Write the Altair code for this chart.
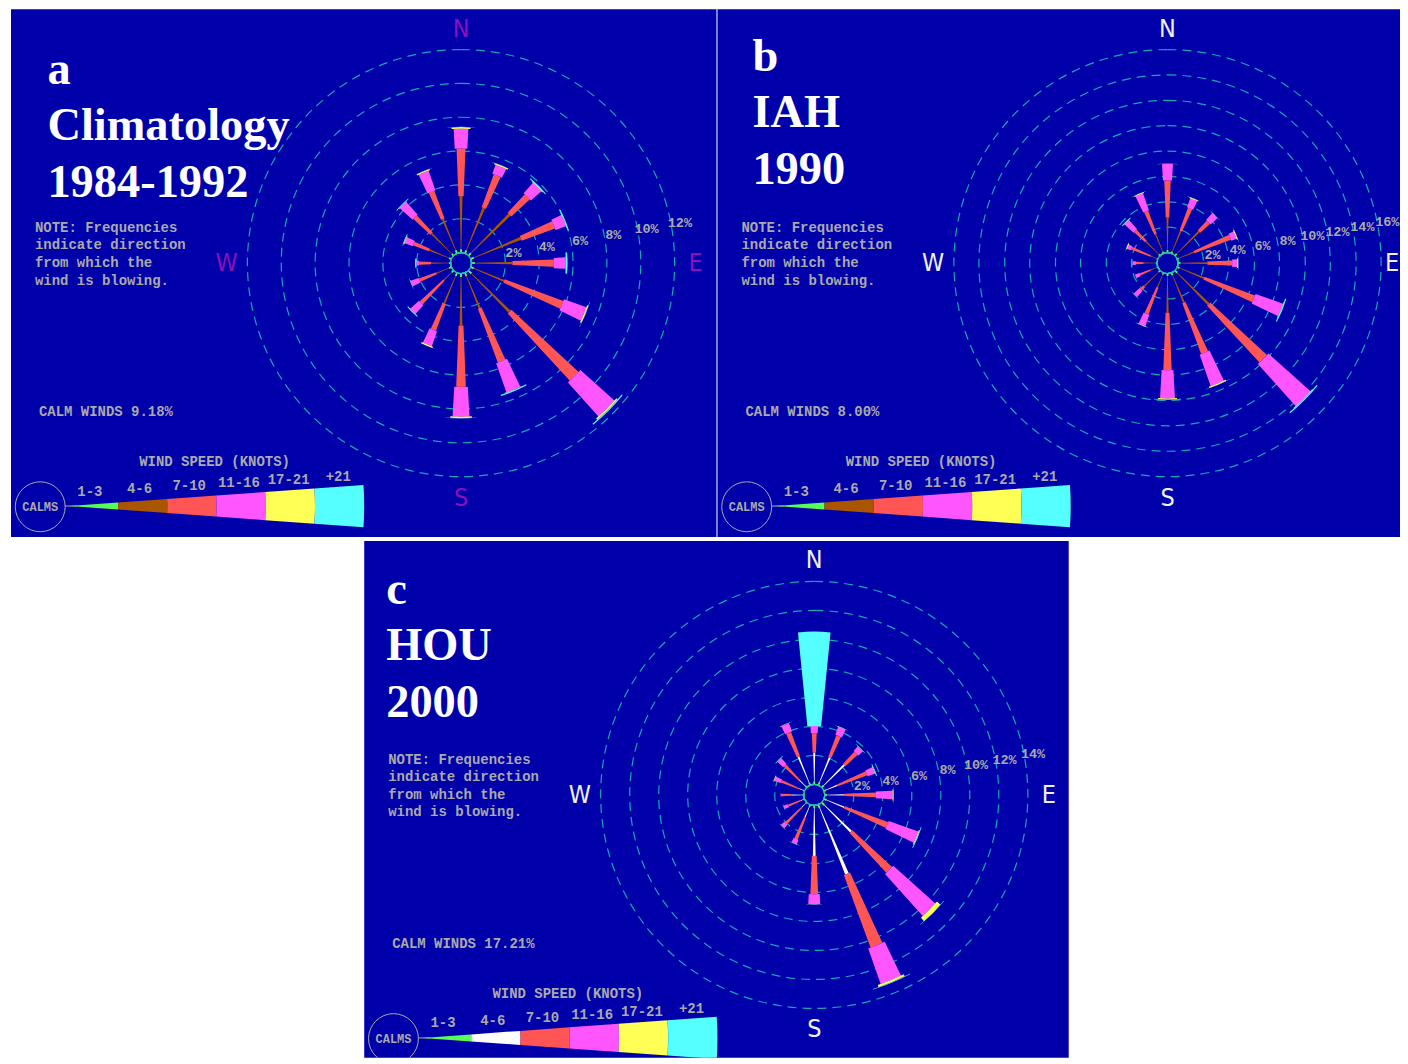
import math
import altair as alt
import pandas as pd

# ---------------- data ----------------
DIRECTIONS = ["N", "NNE", "NE", "ENE", "E", "ESE", "SE", "SSE",
              "S", "SSW", "SW", "WSW", "W", "WNW", "NW", "NNW"]
DIR_DEG = [0, 22.5, 45, 67.5, 90, 112.5, 135, 157.5,
           180, 202.5, 225, 247.5, 270, 292.5, 315, 337.5]
SPEED_CLASSES = ["1-3", "4-6", "7-10", "11-16", "17-21", "+21"]
COMPASS = ["N", "E", "S", "W"]
COMPASS_DEG = [0, 90, 180, 270]

# cumulative frequency (%) at the outer end of each speed class, per direction
# panel a: Climatology 1984-1992
A_1_3 = [0.20, 0.20, 0.20, 0.20, 0.20, 0.20, 0.25, 0.20, 0.20, 0.20, 0.15, 0.15, 0.10, 0.15, 0.15, 0.20]
A_4_6 = [3.34, 2.90, 3.43, 3.20, 2.42, 2.13, 3.44, 2.26, 3.07, 1.98, 0.81, 0.95, 1.15, 1.40, 1.84, 2.19]
A_7_10 = [6.15, 4.97, 4.93, 5.30, 4.87, 5.83, 8.85, 5.65, 6.70, 3.66, 2.72, 2.03, 1.87, 2.40, 3.22, 3.95]
A_11_16 = [7.32, 5.54, 5.75, 5.95, 5.56, 7.24, 11.55, 7.48, 8.46, 4.60, 3.40, 2.54, 2.01, 2.91, 4.24, 5.17]
A_17_21 = [7.42, 5.62, 5.80, 5.98, 5.58, 7.32, 11.65, 7.50, 8.55, 4.67, 3.42, 2.56, 2.02, 2.96, 4.27, 5.25]
A_21 = [7.43, 5.63, 5.86, 6.04, 5.68, 7.34, 11.72, 7.58, 8.56, 4.68, 3.48, 2.58, 2.10, 3.00, 4.32, 5.26]

# panel b: IAH 1990
B_1_3 = [0.20, 0.15, 0.20, 0.15, 0.20, 0.20, 0.25, 0.20, 0.20, 0.15, 0.15, 0.10, 0.10, 0.10, 0.15, 0.15]
B_4_6 = [2.76, 1.92, 2.69, 1.43, 2.31, 2.28, 3.76, 2.53, 3.10, 1.22, 1.76, 0.59, 1.06, 0.59, 1.58, 1.63]
B_7_10 = [5.69, 3.84, 3.72, 4.51, 4.27, 6.53, 9.85, 6.82, 7.62, 3.49, 2.13, 1.51, 1.66, 2.24, 2.76, 3.59]
B_11_16 = [7.00, 4.59, 4.46, 4.94, 4.67, 8.82, 14.30, 9.45, 9.84, 4.43, 2.76, 1.87, 1.92, 2.53, 3.72, 5.00]
B_17_21 = [7.00, 4.66, 4.48, 5.02, 4.75, 8.86, 14.35, 9.55, 9.92, 4.48, 2.78, 1.88, 1.93, 2.62, 3.75, 5.07]
B_21 = [7.02, 4.67, 4.50, 5.04, 4.77, 8.95, 14.45, 9.57, 9.96, 4.50, 2.80, 1.90, 1.95, 2.64, 3.82, 5.08]

# panel c: HOU 2000
C_1_3 = [0.20, 0.20, 0.20, 0.15, 0.15, 0.20, 0.25, 0.25, 0.20, 0.15, 0.10, 0.10, 0.10, 0.10, 0.15, 0.20]
C_4_6 = [2.19, 2.06, 2.20, 1.00, 1.34, 1.52, 2.86, 5.17, 3.48, 0.93, 0.48, 0.30, 0.82, 0.40, 0.73, 2.10]
C_7_10 = [3.53, 3.67, 3.34, 3.18, 3.53, 4.72, 6.59, 10.50, 6.12, 2.56, 2.04, 1.20, 1.57, 1.74, 2.14, 3.91]
C_11_16 = [4.03, 4.26, 3.76, 3.70, 4.68, 6.88, 10.49, 13.10, 6.81, 2.88, 2.37, 1.52, 1.60, 2.19, 2.69, 4.52]
C_17_21 = [4.03, 4.28, 3.80, 3.75, 4.75, 6.95, 10.81, 13.25, 6.83, 2.90, 2.38, 1.53, 1.60, 2.25, 2.70, 4.55]
C_21 = [10.54, 4.29, 3.82, 3.80, 4.77, 7.00, 10.84, 13.28, 6.84, 2.92, 2.40, 1.55, 1.60, 2.26, 2.75, 4.56]

A_RINGS = [2, 4, 6, 8, 10, 12]
B_RINGS = [2, 4, 6, 8, 10, 12, 14, 16]
C_RINGS = [2, 4, 6, 8, 10, 12, 14]

A_TITLE = "a\nClimatology\n1984-1992"
B_TITLE = "b\nIAH\n1990"
C_TITLE = "c\nHOU\n2000"
A_CALM = "CALM WINDS 9.18%"
B_CALM = "CALM WINDS 8.00%"
C_CALM = "CALM WINDS 17.21%"
NOTE = "NOTE: Frequencies\nindicate direction\nfrom which the\nwind is blowing."
LEGEND_TITLE = "WIND SPEED (KNOTS)"

# ---------------- style ----------------
BG = "#0000aa"
GRAY = "#aaaaaa"
RING = "#14a8b0"
COLORS_AB = ["#55ff55", "#aa5500", "#ff5555", "#ff55ff", "#ffff55", "#55ffff"]
COLORS_C = ["#55ff55", "#ffffff", "#ff5555", "#ff55ff", "#ffff55", "#55ffff"]
ARC_WIDTH = [0.15, 0.045, 0.078, 0.11, 0.14, 0.2]   # angular width (rad) per class
MONO = "Liberation Mono"
SERIF = "Liberation Serif"
SANS_N = '"Liberation Sans Narrow", "DejaVu Sans Condensed", sans-serif'
TWO_PI = 2 * math.pi


def one(val="x"):
    return pd.DataFrame({"t": [val]})


def build_panel(cum, colors, pmax, ring_pcts, label_offset, calm_text, title_text,
                title_x, title_y, compass_color, east_radius, width, height):
    CX, CY = 451, 254.5
    X, Y = alt.value(CX), alt.value(CY)
    rscale = alt.Scale(type="linear", domain=[0, pmax], range=[10.5, 214], zero=False)
    layers = []

    rings = pd.DataFrame({"p": ring_pcts, "lab": [f"{p}%" for p in ring_pcts]})
    layers.append(
        alt.Chart(rings).mark_arc(theta=0, theta2=TWO_PI, fillOpacity=0, stroke=RING,
                                  strokeWidth=1.2, strokeDash=[9, 6], clip=True)
        .encode(radius=alt.Radius("p:Q", scale=rscale, stack=False), x=X, y=Y)
    )

    rows = []
    for k, cls in enumerate(SPEED_CLASSES):
        for j, d in enumerate(DIR_DEG):
            p0 = cum[k - 1][j] if k > 0 else 0.0
            p1 = cum[k][j]
            if p1 - p0 > 1e-6:
                rows.append({"cls": cls, "dir": d, "p0": p0, "p1": p1})
    seg = pd.DataFrame(rows)
    for k, cls in enumerate(SPEED_CLASSES):
        sub = seg[seg["cls"] == cls]
        if sub.empty:
            continue
        half = ARC_WIDTH[k] / 2
        layers.append(
            alt.Chart(sub).transform_calculate(
                t1=f"datum.dir * PI / 180 - {half}",
                t2=f"datum.dir * PI / 180 + {half}",
            ).mark_arc(color=colors[k], clip=True).encode(
                theta=alt.Theta("t1:Q", scale=None, stack=False),
                theta2="t2:Q",
                radius=alt.Radius("p1:Q", scale=rscale, stack=False),
                radius2="p0:Q",
                x=X, y=Y,
            )
        )

    # calm circle at the centre
    layers.append(
        alt.Chart(pd.DataFrame({"p": [0]})).mark_arc(
            theta=0, theta2=TWO_PI, fillOpacity=0, stroke="#30c0a0", strokeWidth=1.2, clip=True
        ).encode(radius=alt.Radius("p:Q", scale=rscale, stack=False), x=X, y=Y)
    )

    # ring labels
    layers.append(
        alt.Chart(rings).mark_text(font=MONO, fontSize=13.5, fontWeight="bold", color=GRAY,
                                   theta=1.388, radiusOffset=label_offset, clip=True)
        .encode(radius=alt.Radius("p:Q", scale=rscale, stack=False), text="lab:N", x=X, y=Y)
    )

    # compass letters
    for letter, deg in zip(COMPASS, COMPASS_DEG):
        rad = east_radius if letter == "E" else 235
        layers.append(
            alt.Chart(pd.DataFrame({"c": [letter], "deg": [deg]}))
            .transform_calculate(th="datum.deg * PI / 180")
            .mark_text(font=SANS_N, fontSize=25, color=compass_color, baseline="middle", clip=True)
            .encode(theta=alt.Theta("th:Q", scale=None, stack=False), radius=alt.value(rad),
                    text="c:N", x=X, y=Y)
        )

    # title
    layers.append(
        alt.Chart(one(title_text)).mark_text(
            align="left", baseline="alphabetic", font=SERIF, fontSize=46.5, fontWeight="bold",
            color="white", lineBreak="\n", lineHeight=56.5, clip=True
        ).encode(text="t:N", x=alt.value(title_x), y=alt.value(title_y))
    )

    # note
    layers.append(
        alt.Chart(one(NOTE)).mark_text(
            align="left", baseline="middle", font=MONO, fontSize=14, fontWeight="bold",
            color=GRAY, lineBreak="\n", lineHeight=17.7, clip=True
        ).encode(text="t:N", x=alt.value(24), y=alt.value(219))
    )

    # calm winds
    layers.append(
        alt.Chart(one(calm_text)).mark_text(
            align="left", baseline="middle", font=MONO, fontSize=14, fontWeight="bold",
            color=GRAY, clip=True
        ).encode(text="t:N", x=alt.value(28), y=alt.value(404))
    )

    # legend
    layers.append(
        alt.Chart(one(LEGEND_TITLE)).mark_text(
            align="center", baseline="middle", font=MONO, fontSize=14, fontWeight="bold",
            color=GRAY, clip=True
        ).encode(text="t:N", x=alt.value(204), y=alt.value(454))
    )
    layers.append(
        alt.Chart(one()).mark_rule(color=GRAY, strokeWidth=1, clip=True)
        .encode(x=alt.value(54), x2=alt.value(66), y=alt.value(498))
    )
    leg = pd.DataFrame({"cls": SPEED_CLASSES, "k": list(range(6))})
    leg["k1"] = leg["k"] + 1
    layers.append(
        alt.Chart(leg).mark_arc(theta=1.4993, theta2=1.6423, clip=True).encode(
            radius=alt.Radius("k1:Q", scale=alt.Scale(type="linear", domain=[0, 6], range=[0, 296], zero=False),
                              stack=False),
            radius2="k:Q",
            color=alt.Color("cls:N", scale=alt.Scale(domain=SPEED_CLASSES, range=colors), legend=None),
            x=alt.value(58), y=alt.value(498),
        )
    )
    layers.append(
        alt.Chart(leg).mark_text(font=MONO, fontSize=14, fontWeight="bold", color=GRAY,
                                 baseline="middle", clip=True).encode(
            text="cls:N",
            x=alt.X("k:Q", scale=alt.Scale(domain=[0, 5], range=[79, 328]), axis=None),
            y=alt.Y("k:Q", scale=alt.Scale(domain=[0, 5], range=[483.5, 469]), axis=None),
        )
    )
    layers.append(
        alt.Chart(one()).mark_arc(theta=0, theta2=TWO_PI, radius=25, fillOpacity=0, stroke=GRAY,
                                  strokeWidth=1, clip=True)
        .encode(x=alt.value(29.3), y=alt.value(498.7))
    )
    layers.append(
        alt.Chart(one("CALMS")).mark_text(font=MONO, fontSize=12, fontWeight="bold", color=GRAY,
                                          baseline="middle", clip=True)
        .encode(text="t:N", x=alt.value(29.3), y=alt.value(498.7))
    )

    return alt.layer(*layers).resolve_scale(
        radius="independent", x="independent", y="independent", color="independent"
    ).properties(width=width, height=height)


A = build_panel([A_1_3, A_4_6, A_7_10, A_11_16, A_17_21, A_21], COLORS_AB, 12, A_RINGS, 9,
                A_CALM, A_TITLE, 36.5, 75, "#8a10b8", 235, 707, 529)
B = build_panel([B_1_3, B_4_6, B_7_10, B_11_16, B_17_21, B_21], COLORS_AB, 16, B_RINGS, 10,
                B_CALM, B_TITLE, 35, 62, "#f0f0f0", 225, 684, 529)
C = build_panel([C_1_3, C_4_6, C_7_10, C_11_16, C_17_21, C_21], COLORS_C, 14, C_RINGS, 9,
                C_CALM, C_TITLE, 22, 63, "#f0f0f0", 235, 706, 518)

spacer = alt.Chart(one()).mark_point(opacity=0).encode(
    x=alt.value(0), y=alt.value(0)
).properties(width=353, height=518, view=alt.ViewBackground(fill="white", strokeWidth=0))

top = alt.hconcat(A, B, spacing=1)
bottom = alt.hconcat(spacer, C, spacing=1)
chart = alt.vconcat(top, bottom, spacing=1).properties(
    padding=0, background="white"
).configure_view(fill=BG, strokeWidth=0)

chart.save("out.html", embed_options={"renderer": "svg", "actions": False})
